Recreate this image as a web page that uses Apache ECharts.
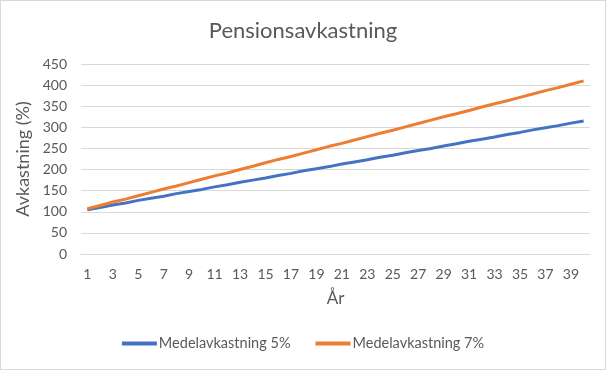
<!DOCTYPE html>
<html>
<head>
<meta charset="utf-8">
<script src="https://cdn.jsdelivr.net/npm/echarts@6/dist/echarts.min.js"></script>
<style>
html,body{margin:0;padding:0;background:#fff;}
#c{width:606px;height:370px;box-sizing:border-box;border:1px solid #d9d9d9;}
</style>
</head>
<body>
<div id="c"></div>
<script>
const years = [];
for (let i = 1; i <= 40; i++) years.push(String(i));
const yTicks = [0, 50, 100, 150, 200, 250, 300, 350, 400, 450];
const seriesNames = ['Medelavkastning 5%', 'Medelavkastning 7%'];
const avk5 = [105,110,116,121,127,132,137,143,148,153,159,164,170,175,180,186,191,197,202,207,213,218,223,229,234,240,245,250,256,261,267,272,277,283,288,294,299,304,310,315];
const avk7 = [107,115,123,130,138,146,154,161,169,177,185,192,200,208,216,224,231,239,247,255,262,270,278,286,293,301,309,317,325,332,340,348,356,363,371,379,387,394,402,410];

const font = 'Lato, "Open Sans", sans-serif';
const txt = '#595959';
const chart = echarts.init(document.getElementById('c'), null, {renderer: 'canvas'});
chart.setOption({
  animation: false,
  textStyle: {fontFamily: font},
  title: {
    text: 'Pensionsavkastning', left: 'center', top: 14,
    textStyle: {fontFamily: font, fontSize: 22, fontWeight: 'normal', color: txt}
  },
  grid: {left: 80, right: 15, top: 63, bottom: 115, containLabel: false},
  legend: {
    data: seriesNames, bottom: 13, left: 'center',
    itemWidth: 35, itemHeight: 4, itemGap: 25,
    icon: 'rect',
    textStyle: {fontFamily: font, fontSize: 14.5, color: txt, padding: [0,0,0,-3]}
  },
  xAxis: {
    type: 'category', data: years, boundaryGap: true,
    name: 'År', nameLocation: 'middle', nameGap: 36,
    nameTextStyle: {fontFamily: font, fontSize: 17, color: txt},
    axisLine: {lineStyle: {color: '#d9d9d9'}},
    axisTick: {show: false},
    axisLabel: {interval: 1, color: txt, fontSize: 14, fontFamily: font, margin: 13}
  },
  yAxis: {
    type: 'value', min: yTicks[0], max: yTicks[yTicks.length-1], interval: 50,
    name: 'Avkastning (%)', nameLocation: 'middle', nameGap: 45,
    nameTextStyle: {fontFamily: font, fontSize: 18, color: txt},
    axisLine: {show: false}, axisTick: {show: false},
    axisLabel: {color: txt, fontSize: 14, fontFamily: font, margin: 14},
    splitLine: {lineStyle: {color: '#d9d9d9', width: 1}}
  },
  series: [
    {name: seriesNames[0], type: 'line', data: avk5, showSymbol: false, symbol: 'none',
     lineStyle: {color: '#4472C4', width: 3}, itemStyle: {color: '#4472C4'}},
    {name: seriesNames[1], type: 'line', data: avk7, showSymbol: false, symbol: 'none',
     lineStyle: {color: '#ED7D31', width: 3}, itemStyle: {color: '#ED7D31'}}
  ]
});
</script>
</body>
</html>
